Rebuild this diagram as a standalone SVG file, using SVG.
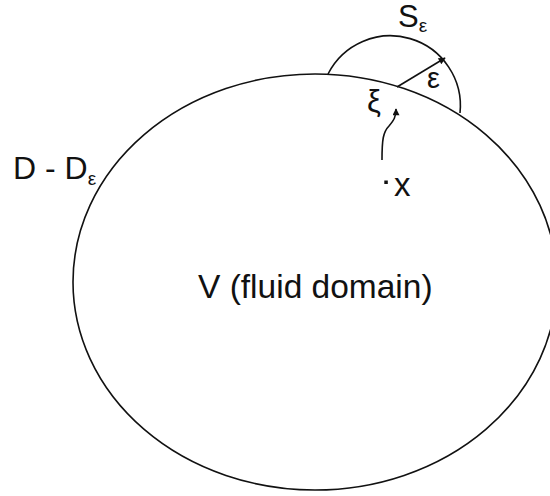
<svg xmlns="http://www.w3.org/2000/svg" width="550" height="496" viewBox="0 0 550 496">
<style>
.ln{fill:none;stroke:#111;stroke-width:1.6}
.t{font-family:"Liberation Sans",Arial,sans-serif;fill:#111}
</style>
<defs>
<marker id="ah" viewBox="0 0 10 10" refX="9" refY="5" markerWidth="9" markerHeight="7" markerUnits="userSpaceOnUse" orient="auto">
<path d="M0,0 L10,5 L0,10 Z" fill="#111"/>
</marker>
</defs>
<rect width="550" height="496" fill="#fff"/>
<g id="domain">
<ellipse class="ln" cx="315" cy="282" rx="242" ry="208"/>
<text class="t" x="198" y="298" font-size="33.5">V (fluid domain)</text>
</g>
<g id="boundary-label">
<text class="t" x="13" y="179" font-size="32">D - D<tspan font-size="19" dy="6">ε</tspan></text>
</g>
<g id="hemisphere">
<path class="ln" d="M328,74 A70,70 0 0 1 460,113"/>
<text class="t" x="398" y="27" font-size="31">S<tspan font-size="19" dy="5">ε</tspan></text>
<text class="t" x="427" y="88" font-size="29">ε</text>
</g>
<g id="xi">
<text class="t" x="367" y="112" font-size="31">ξ</text>
</g>
<g id="point-x">
<rect x="384.3" y="180.5" width="3.5" height="3.5" fill="#111"/>
<text class="t" x="394" y="196" font-size="33">x</text>
</g>
<g id="connectors">
<line class="ln" x1="397" y1="87" x2="445" y2="58" marker-end="url(#ah)"/>
<path class="ln" d="M382,160 C382,140 383,132 389,126 C394,120 396,117 396,109" marker-end="url(#ah)"/>
</g>
</svg>
